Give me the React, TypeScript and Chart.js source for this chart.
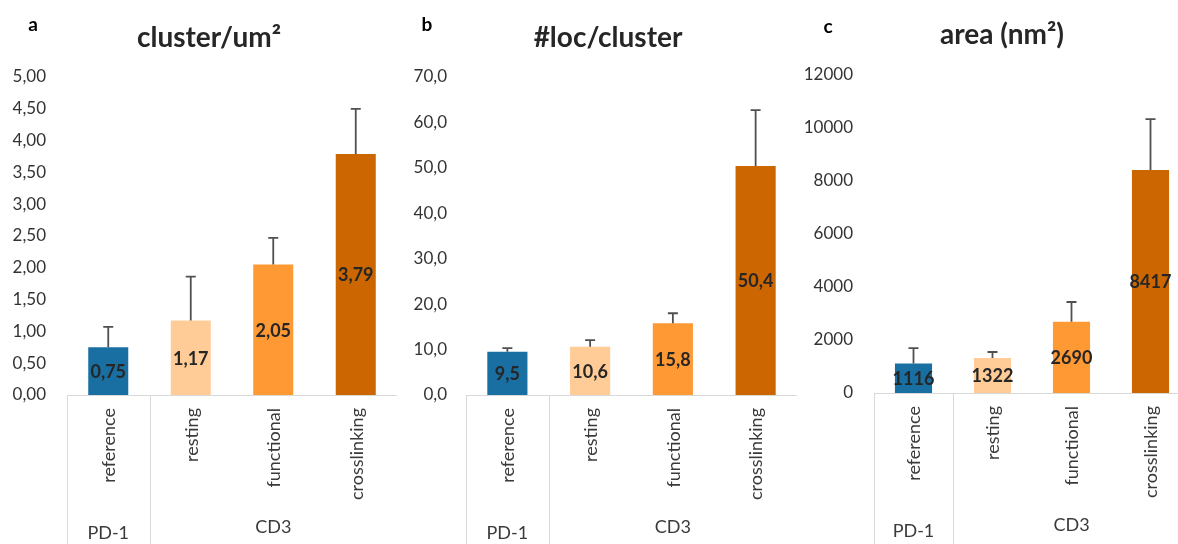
import React, { useEffect, useRef } from "react";
import { Chart, registerables } from "chart.js";

Chart.register(...registerables);

// ---------- data ----------
const categories = ["reference", "resting", "functional", "crosslinking"];
const groupLabels = ["PD-1", "CD3"];
const groupSpans = [1, 3];
const barColors = ["#1A6FA2", "#FFCB97", "#FF9933", "#CC6600"];

const clusterDensity = [0.75, 1.17, 2.05, 3.79];
const clusterDensityErr = [0.32, 0.69, 0.42, 0.71];

const locPerCluster = [9.5, 10.6, 15.8, 50.4];
const locPerClusterErr = [0.8, 1.5, 2.2, 12.3];

const clusterArea = [1116, 1322, 2690, 8417];
const clusterAreaErr = [580, 225, 744, 1920];

const FONT = "Lato, 'Open Sans', sans-serif";
const H = 544;

type Spec = {
  letter: string;
  title: string;
  values: number[];
  errors: number[];
  max: number;
  step: number;
  fmtTick: (v: number) => string;
  fmtLabel: (v: number) => string;
  left: number;
  width: number;
  axisWidth: number;
  labelPad: number;
  top: number;
  bottom: number;
  catPct: number;
  titleX: number;
  titleY: number;
  letterX: number;
  letterY: number;
};

const comma = (v: number, d: number) => v.toFixed(d).replace(".", ",");

const panels: Spec[] = [
  {
    letter: "a",
    title: "cluster/um²",
    values: clusterDensity,
    errors: clusterDensityErr,
    max: 5,
    step: 0.5,
    fmtTick: (v) => comma(v, 2),
    fmtLabel: (v) => comma(v, 2),
    left: 0,
    width: 397,
    axisWidth: 67,
    labelPad: 21,
    top: 77,
    bottom: 395,
    catPct: 0.485,
    titleX: 209,
    titleY: 38,
    letterX: 33,
    letterY: 25,
  },
  {
    letter: "b",
    title: "#loc/cluster",
    values: locPerCluster,
    errors: locPerClusterErr,
    max: 70,
    step: 10,
    fmtTick: (v) => comma(v, 1),
    fmtLabel: (v) => comma(v, 1),
    left: 397,
    width: 400,
    axisWidth: 69,
    labelPad: 19,
    top: 77,
    bottom: 395,
    catPct: 0.485,
    titleX: 211,
    titleY: 38,
    letterX: 30,
    letterY: 25,
  },
  {
    letter: "c",
    title: "area (nm²)",
    values: clusterArea,
    errors: clusterAreaErr,
    max: 12000,
    step: 2000,
    fmtTick: (v) => String(Math.round(v)),
    fmtLabel: (v) => String(Math.round(v)),
    left: 797,
    width: 393,
    axisWidth: 77,
    labelPad: 21,
    top: 75,
    bottom: 393,
    catPct: 0.47,
    titleX: 205,
    titleY: 35,
    letterX: 31,
    letterY: 27,
  },
];

function overlayPlugin(spec: Spec) {
  return {
    id: "overlay-" + spec.letter,
    afterDatasetsDraw(chart: any) {
      const ctx = chart.ctx as CanvasRenderingContext2D;
      const meta = chart.getDatasetMeta(0);
      const ys = chart.scales.y;
      ctx.save();
      // error bars
      ctx.strokeStyle = "#505050";
      ctx.lineWidth = 1.8;
      meta.data.forEach((bar: any, i: number) => {
        const x = bar.x;
        const y0 = ys.getPixelForValue(spec.values[i]);
        const y1 = ys.getPixelForValue(spec.values[i] + spec.errors[i]);
        ctx.beginPath();
        ctx.moveTo(x, y0);
        ctx.lineTo(x, y1);
        ctx.moveTo(x - 5, y1);
        ctx.lineTo(x + 5, y1);
        ctx.stroke();
      });
      // data labels
      ctx.font = `bold 18px ${FONT}`;
      ctx.fillStyle = "#262626";
      ctx.textAlign = "center";
      ctx.textBaseline = "middle";
      meta.data.forEach((bar: any, i: number) => {
        ctx.fillText(spec.fmtLabel(spec.values[i]), bar.x, (bar.y + bar.base) / 2 + 1);
      });
      ctx.restore();
    },
    afterDraw(chart: any) {
      const ctx = chart.ctx as CanvasRenderingContext2D;
      const xs = chart.scales.x;
      const area = chart.chartArea;
      const base = area.bottom;
      ctx.save();
      // category box lines
      ctx.strokeStyle = "#d9d9d9";
      ctx.lineWidth = 1;
      const crisp = (v: number) => Math.round(v) + 0.5;
      ctx.beginPath();
      ctx.moveTo(area.left, crisp(base));
      ctx.lineTo(area.right, crisp(base));
      const bounds: number[] = [area.left];
      let idx = 0;
      groupSpans.forEach((span, g) => {
        idx += span;
        if (g < groupSpans.length - 1) {
          bounds.push((xs.getPixelForValue(idx - 1) + xs.getPixelForValue(idx)) / 2);
        }
      });
      bounds.push(area.right);
      bounds.forEach((bx) => {
        ctx.moveTo(crisp(bx), base);
        ctx.lineTo(crisp(bx), H);
      });
      ctx.stroke();
      // rotated category labels
      ctx.fillStyle = "#3a3a3a";
      ctx.font = `18px ${FONT}`;
      categories.forEach((c, i) => {
        ctx.save();
        ctx.translate(xs.getPixelForValue(i) + 1, base + 13);
        ctx.rotate(-Math.PI / 2);
        ctx.textAlign = "right";
        ctx.textBaseline = "middle";
        ctx.fillText(c, 0, 0);
        ctx.restore();
      });
      // group labels
      ctx.textAlign = "center";
      ctx.textBaseline = "middle";
      groupSpans.forEach((span, g) => {
        const x0 = bounds[g];
        const x1 = bounds[g + 1];
        const offs = span === 1 ? 138 : 132;
        ctx.fillText(groupLabels[g], (x0 + x1) / 2, base + offs);
      });
      // title
      ctx.fillStyle = "#262626";
      ctx.font = `bold 28px ${FONT}`;
      ctx.fillText(spec.title, spec.titleX, spec.titleY);
      // panel letter
      ctx.fillStyle = "#000000";
      ctx.font = `bold 19px ${FONT}`;
      ctx.fillText(spec.letter, spec.letterX, spec.letterY);
      ctx.restore();
    },
  };
}

function Panel({ spec }: { spec: Spec }) {
  const ref = useRef<HTMLCanvasElement | null>(null);
  useEffect(() => {
    if (!ref.current) return;
    const chart = new Chart(ref.current, {
      type: "bar",
      data: {
        labels: categories,
        datasets: [
          {
            data: spec.values,
            backgroundColor: barColors,
            borderWidth: 0,
            barPercentage: 1,
            categoryPercentage: spec.catPct,
          },
        ],
      },
      options: {
        animation: false,
        responsive: false,
        maintainAspectRatio: false,
        layout: {
          padding: { top: spec.top, bottom: H - spec.bottom, left: 0, right: 0 },
        },
        plugins: {
          legend: { display: false },
          tooltip: { enabled: false },
          title: { display: false },
        },
        scales: {
          x: { display: false, offset: true },
          y: {
            min: 0,
            max: spec.max,
            ticks: {
              stepSize: spec.step,
              padding: spec.labelPad,
              color: "#333333",
              font: { family: FONT, size: 17 },
              callback: (v: any) => spec.fmtTick(Number(v)),
            },
            grid: { display: false, drawTicks: false },
            border: { display: false },
            afterFit: (s: any) => {
              s.width = spec.axisWidth;
            },
          },
        },
      } as any,
      plugins: [overlayPlugin(spec)],
    });
    return () => chart.destroy();
  }, [spec]);
  return (
    <div style={{ position: "absolute", left: spec.left, top: 0, width: spec.width, height: H }}>
      <canvas ref={ref} width={spec.width} height={H} style={{ display: "block" }} />
    </div>
  );
}

export default function App() {
  return (
    <div
      style={{
        position: "absolute",
        left: 0,
        top: 0,
        width: 1178,
        height: H,
        overflow: "hidden",
        background: "#ffffff",
      }}
    >
      {panels.map((p) => (
        <Panel key={p.letter} spec={p} />
      ))}
    </div>
  );
}
